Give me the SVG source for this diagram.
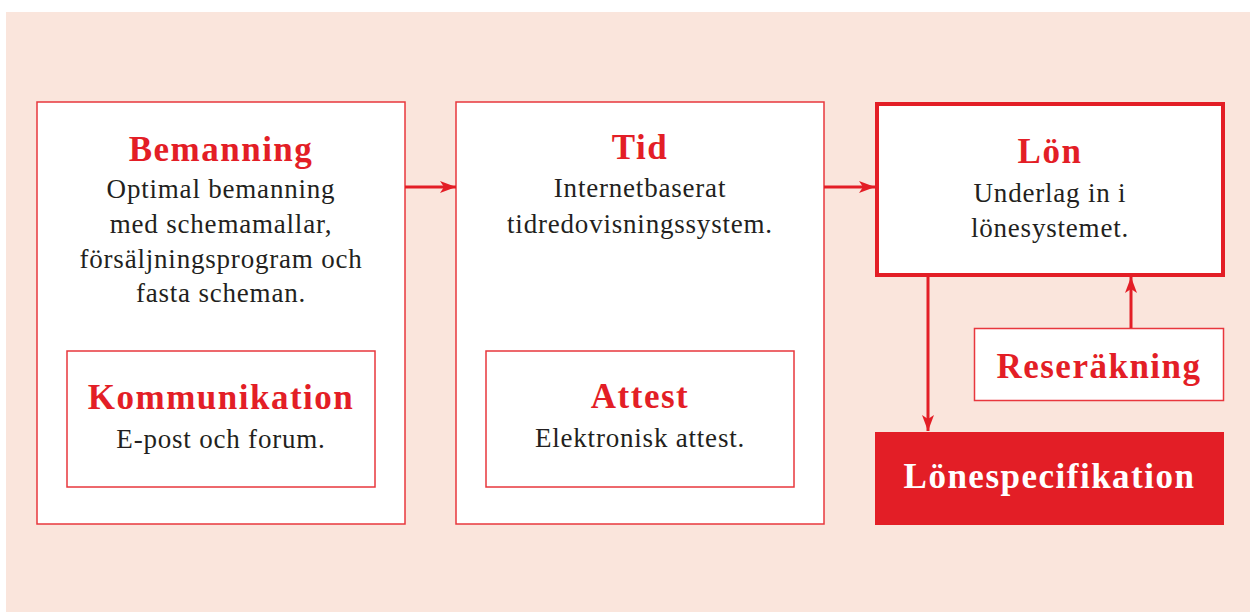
<svg xmlns="http://www.w3.org/2000/svg" width="1250" height="612" viewBox="0 0 1250 612">
<defs>
<style>
.box{fill:#fff;stroke:#E8373D;stroke-width:1.5}
.title{font-family:"Liberation Serif",serif;font-weight:bold;font-size:35px;fill:#E31E26;text-anchor:middle;letter-spacing:1.5px}
.body{font-family:"Liberation Serif",serif;font-size:27px;fill:#231F20;text-anchor:middle;letter-spacing:0.8px}
.conn{stroke:#E31E26;stroke-width:3;fill:none}
</style>
<marker id="ah" viewBox="0 0 16 12" refX="16" refY="6" markerWidth="16" markerHeight="12" markerUnits="userSpaceOnUse" orient="auto">
<path d="M0,0 L16,6 L0,12 L4,6 Z" fill="#E31E26"/>
</marker>
</defs>
<rect x="6" y="12" width="1244" height="600" fill="#FAE5DC"/>
<g id="bemanning">
<rect class="box" x="37" y="102" width="368" height="422"/>
<text class="title" x="221" y="161">Bemanning</text>
<text class="body" x="221" y="198">Optimal bemanning</text>
<text class="body" x="221" y="233">med schemamallar,</text>
<text class="body" x="221" y="268">försäljningsprogram och</text>
<text class="body" x="221" y="302">fasta scheman.</text>
</g>
<g id="kommunikation">
<rect class="box" x="67" y="351" width="308" height="136"/>
<text class="title" x="221" y="409">Kommunikation</text>
<text class="body" x="221" y="448">E-post och forum.</text>
</g>
<g id="tid">
<rect class="box" x="456" y="102" width="368" height="422"/>
<text class="title" x="640" y="159">Tid</text>
<text class="body" x="640" y="197">Internetbaserat</text>
<text class="body" x="640" y="233">tidredovisningssystem.</text>
</g>
<g id="attest">
<rect class="box" x="486" y="351" width="308" height="136"/>
<text class="title" x="640" y="408">Attest</text>
<text class="body" x="640" y="447">Elektronisk attest.</text>
</g>
<g id="lon">
<rect x="877" y="104" width="346" height="171" fill="#fff" stroke="#E31E26" stroke-width="4"/>
<text class="title" x="1050" y="163">Lön</text>
<text class="body" x="1050" y="202">Underlag in i</text>
<text class="body" x="1050" y="237">lönesystemet.</text>
</g>
<g id="reserakning">
<rect class="box" x="974.5" y="328.5" width="249" height="72"/>
<text class="title" x="1099" y="378">Reseräkning</text>
</g>
<g id="lonespecifikation">
<rect x="875" y="432" width="349" height="93" fill="#E31E26"/>
<text class="title" x="1049.5" y="488" style="fill:#fff">Lönespecifikation</text>
</g>
<g id="connectors">
<line class="conn" x1="405" y1="187" x2="456" y2="187" marker-end="url(#ah)"/>
<line class="conn" x1="824" y1="187" x2="875" y2="187" marker-end="url(#ah)"/>
<line class="conn" x1="928" y1="277" x2="928" y2="431" marker-end="url(#ah)"/>
<line class="conn" x1="1131" y1="328" x2="1131" y2="277" marker-end="url(#ah)"/>
</g>
</svg>
